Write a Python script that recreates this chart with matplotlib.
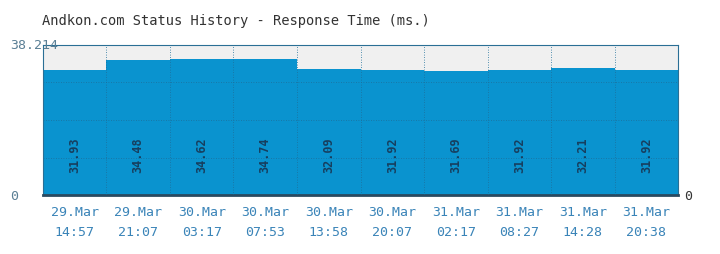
import matplotlib
matplotlib.use("Agg")
import matplotlib.pyplot as plt
import numpy as np

categories = ["29.Mar\n14:57", "29.Mar\n21:07", "30.Mar\n03:17", "30.Mar\n07:53",
              "30.Mar\n13:58", "30.Mar\n20:07", "31.Mar\n02:17", "31.Mar\n08:27",
              "31.Mar\n14:28", "31.Mar\n20:38"]
values = [31.93, 34.48, 34.62, 34.74, 32.09, 31.92, 31.69, 31.92, 32.21, 31.92]
ymax = 38.214

mono = ["DejaVu Sans Mono"]
fig = plt.figure(figsize=(7.2, 2.55), dpi=100)
fig.patch.set_facecolor("white")
ax = fig.add_axes([0.0597, 0.231, 0.882, 0.589])
ax.set_facecolor("#f0f0f0")
x = np.arange(len(values))
ax.bar(x, values, width=1.0, color="#0a93cf", edgecolor="none", zorder=2)
ax.set_xlim(-0.5, len(values) - 0.5)
ax.set_ylim(0, ymax)

for xi in np.arange(0.5, len(values) - 0.5, 1):
    ax.axvline(xi, color="#1d6f9a", linestyle=(0, (1, 2)), linewidth=0.6, zorder=3)
for yi in [ymax * 0.25, ymax * 0.5, ymax * 0.75]:
    ax.axhline(yi, color="#1d6f9a", linestyle=(0, (1, 2)), linewidth=0.6, zorder=3)

for xi, v in zip(x, values):
    ax.text(xi, 10.4, f"{v:.2f}", rotation=90, ha="center", va="center",
            fontsize=8.5, color="#173f5f", family=mono, fontweight="bold", zorder=4)

for s in ["top", "right", "left"]:
    ax.spines[s].set_color("#2a6f95")
    ax.spines[s].set_linewidth(0.8)
ax.spines["bottom"].set_color("#2a4a60")
ax.spines["bottom"].set_linewidth(2)

ax.set_yticks([])
ax.set_xticks(x)
ax.set_xticklabels(categories, family=mono, fontsize=9.5, color="#3a84b8",
                   linespacing=1.75)
ax.tick_params(axis="x", length=0, pad=7)

fig.text(0.014, 0.822, f"{ymax}", family=mono, fontsize=9.5,
         color="#5a7f95", va="center", ha="left")
fig.text(0.02, 0.228, "0", family=mono, fontsize=9.5, color="#5a7f95",
         va="center", ha="center")
fig.text(0.956, 0.228, "0", family=mono, fontsize=9.5, color="#333333",
         va="center", ha="center")
fig.text(0.058, 0.918, "Andkon.com Status History - Response Time (ms.)",
         family=mono, fontsize=9.9, color="#333333", va="center", ha="left")

fig.savefig("out.png", dpi=100)
